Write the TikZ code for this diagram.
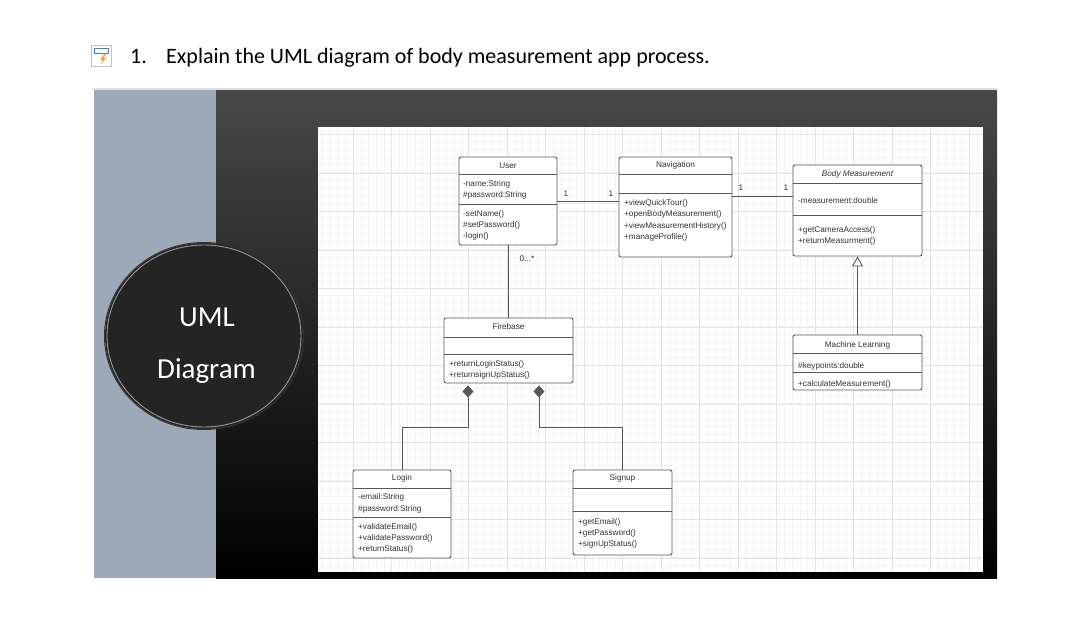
\documentclass[tikz,border=0pt]{standalone}
\usepackage{fontspec}
\newfontfamily\docfont{Carlito}
\newfontfamily\umlfont{Liberation Sans}
\usepackage{xcolor}
\usepackage{tikz}
\usetikzlibrary{positioning, arrows.meta, calc}

\definecolor{panelblue}{RGB}{157,169,184}
\definecolor{paneltop}{RGB}{72,72,72}
\definecolor{umlline}{RGB}{88,88,88}
\definecolor{umltext}{RGB}{50,50,50}
\definecolor{gridminor}{RGB}{243,243,243}
\definecolor{gridmajor}{RGB}{228,228,228}
\definecolor{iconblue}{RGB}{74,126,187}
\definecolor{iconorange}{RGB}{240,165,50}

\begin{document}
\begin{tikzpicture}[x=1pt, y=-1pt,
    umlclass/.style={draw=umlline, line width=0.9pt, rounded corners=2pt, fill=white, inner sep=0pt},
    sepline/.style={draw=umlline, line width=0.8pt},
    header/.style={font=\umlfont\fontsize{8.2}{11.2}\selectfont, text=umltext, anchor=base, inner sep=0pt},
    members/.style={font=\umlfont\fontsize{8.2}{11.2}\selectfont, text=umltext, anchor=north west, yshift=5pt, align=left, inner sep=0pt, execute at begin node=\strut},
    assoc/.style={draw=umlline, line width=0.9pt},
    mult/.style={font=\umlfont\fontsize{8.2}{11.2}\selectfont, text=umltext, anchor=base, inner sep=0pt},
    inherit/.style={assoc, -{Triangle[open, length=10pt, width=11pt, line width=0.9pt]}},
    compose/.style={assoc, shorten >=2pt, -{Diamond[length=12pt, width=11pt, fill=umlline]}},
    bigtext/.style={font=\docfont\fontsize{29}{34}\selectfont, text=white, anchor=base, inner sep=0pt}
]
\useasboundingbox (0,0) rectangle (1065,619);
\fill[white] (0,0) rectangle (1065,619);

\draw[gray!50, line width=0.9pt, fill=white] (91,45) rectangle (111,66);
\draw[iconblue, line width=0.9pt] (94,48.5) rectangle (108,53);
\fill[iconorange] (104.5,53.5) -- (100,60) -- (103,60) -- (100.5,65) -- (106.5,57.5) -- (103.5,57.5) -- (106.5,53.5) -- cycle;
\node[font=\docfont\fontsize{22}{26}\selectfont, anchor=base west, inner sep=0pt] (num) at (130,63) {1.};
\node[font=\docfont\fontsize{22}{26}\selectfont, anchor=base west, inner sep=0pt] (question) at (166,63) {Explain the UML diagram of body measurement app process.};
\draw[gray!25, line width=2pt] (92,89) -- (997,89);

\fill[panelblue] (94,90) rectangle (216,578);
\shade[top color=paneltop, bottom color=black] (216,90) rectangle (997,578);

\fill[white] (318,127) rectangle (983,572);
\begin{scope}
\clip (318,127) rectangle (983,572);
\foreach \i in {0,...,88} \draw[gridminor, line width=0.7pt] ({314.8+7.7*\i},127) -- ({314.8+7.7*\i},572);
\foreach \i in {0,...,60} \draw[gridminor, line width=0.7pt] (318,{126.3+7.7*\i}) -- (983,{126.3+7.7*\i});
\foreach \i in {0,...,18} \draw[gridmajor, line width=0.8pt] ({314.8+38.5*\i},127) -- ({314.8+38.5*\i},572);
\foreach \i in {0,...,12} \draw[gridmajor, line width=0.8pt] (318,{134.5+38.5*\i}) -- (983,{134.5+38.5*\i});
\end{scope}

\fill[black!86] (204,336) ellipse [x radius=99, y radius=93];
\draw[black!40, line width=0.9pt] (204,336) ellipse [x radius=97, y radius=91];
\draw[black!80, line width=1pt] (204,336) ellipse [x radius=99.5, y radius=93.5];
\node[bigtext] (uml) at (207,326) {UML};
\node[bigtext] (diagram) at (206.5,378) {Diagram};

\node[umlclass, minimum width=98pt, minimum height=88pt] (user) at (508,201) {};
\draw[sepline] (user.west |- 0,174) -- (user.east |- 0,174);
\draw[sepline] (user.west |- 0,204) -- (user.east |- 0,204);
\node[header] (user title) at (508,168) {User};
\node[members] (user attrs) at (463,185) {-name:String\\\#password:String};
\node[members] (user ops) at (463,215) {-setName()\\\#setPassword()\\-login()};

\node[umlclass, minimum width=113pt, minimum height=100pt] (nav) at (675.5,207) {};
\draw[sepline] (nav.west |- 0,174) -- (nav.east |- 0,174);
\draw[sepline] (nav.west |- 0,193) -- (nav.east |- 0,193);
\node[header] (nav title) at (675.5,167) {Navigation};
\node[members] (nav ops) at (624,204.5) {+viewQuickTour()\\+openBodyMeasurement()\\+viewMeasurementHistory()\\+manageProfile()};

\node[umlclass, minimum width=129pt, minimum height=91pt] (body) at (857.5,210.5) {};
\draw[sepline] (body.west |- 0,183) -- (body.east |- 0,183);
\draw[sepline] (body.west |- 0,215) -- (body.east |- 0,215);
\node[header, font=\umlfont\itshape\fontsize{8.2}{11.2}\selectfont] (body title) at (857.5,176) {Body Measurement};
\node[members] (body attrs) at (798,200.5) {-measurement:double};
\node[members] (body ops) at (798,231.5) {+getCameraAccess()\\+returnMeasurment()};

\node[umlclass, minimum width=129pt, minimum height=55pt] (ml) at (857.5,362.5) {};
\draw[sepline] (ml.west |- 0,353) -- (ml.east |- 0,353);
\draw[sepline] (ml.west |- 0,372) -- (ml.east |- 0,372);
\node[header] (ml title) at (857.5,347) {Machine Learning};
\node[members] (ml attrs) at (798,365.3) {\#keypoints:double};
\node[members] (ml ops) at (798,383) {+calculateMeasurement()};

\node[umlclass, minimum width=129pt, minimum height=65pt] (fire) at (508.5,350.5) {};
\draw[sepline] (fire.west |- 0,337) -- (fire.east |- 0,337);
\draw[sepline] (fire.west |- 0,354) -- (fire.east |- 0,354);
\node[header] (fire title) at (508.5,329) {Firebase};
\node[members] (fire ops) at (449,365.3) {+returnLoginStatus()\\+returnsignUpStatus()};

\node[umlclass, minimum width=98pt, minimum height=88pt] (login) at (402,514) {};
\draw[sepline] (login.west |- 0,488) -- (login.east |- 0,488);
\draw[sepline] (login.west |- 0,517) -- (login.east |- 0,517);
\node[header] (login title) at (402,480.5) {Login};
\node[members] (login attrs) at (358,498.7) {-email:String\\\#password:String};
\node[members] (login ops) at (358,528) {+validateEmail()\\+validatePassword()\\+returnStatus()};

\node[umlclass, minimum width=99pt, minimum height=85pt] (signup) at (622.5,512.5) {};
\draw[sepline] (signup.west |- 0,488) -- (signup.east |- 0,488);
\draw[sepline] (signup.west |- 0,511) -- (signup.east |- 0,511);
\node[header] (signup title) at (622.5,480.5) {Signup};
\node[members] (signup ops) at (578,523) {+getEmail()\\+getPassword()\\+signUpStatus()};

\draw[assoc] (user.east) -- (user.east -| nav.west);
\node[mult] (m1) at (566,196) {1};
\node[mult] (m2) at (611,196) {1};
\draw[assoc] (nav.east |- 0,196) -- (body.west |- 0,196);
\node[mult] (m3) at (741,190) {1};
\node[mult] (m4) at (786,190) {1};
\draw[assoc] (user.south) -- (user.south |- fire.north);
\node[mult] (m5) at (527,261) {0...*};
\draw[inherit] (ml.north) -- (body.south);
\draw[compose] (login.north) |- (468,427) -- (fire.south -| 468,0);
\draw[compose] (signup.north) |- (539,427) -- (fire.south -| 539,0);

\end{tikzpicture}
\end{document}
